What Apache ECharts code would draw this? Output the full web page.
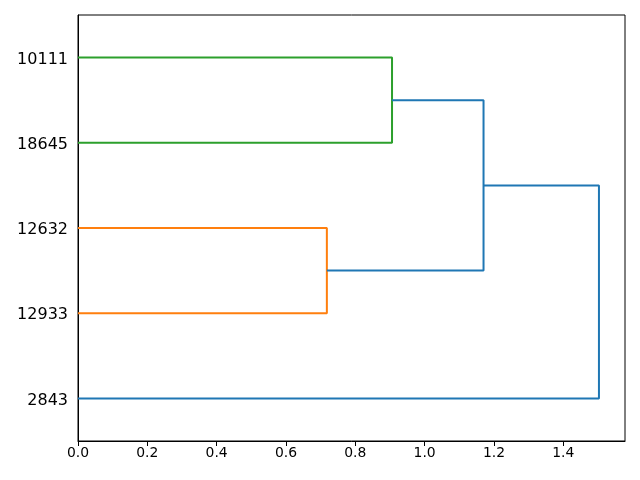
<!DOCTYPE html>
<html><head><meta charset="utf-8">
<script src="https://cdn.jsdelivr.net/npm/echarts@6/dist/echarts.min.js"></script>
<style>html,body{margin:0;padding:0;background:#fff}#c{width:640px;height:480px}</style>
</head><body><div id="c"></div>
<script>
// leaves, bottom to top
const leaves = ['2843', '12933', '12632', '18645', '10111'];
// links in scipy style: leaf-axis coords and distance coords
const icoord = [
  [15, 15, 25, 25],
  [35, 35, 45, 45],
  [20, 20, 40, 40],
  [5, 5, 30, 30]
];
const dcoord = [
  [0, 0.718, 0.718, 0],
  [0, 0.906, 0.906, 0],
  [0.718, 1.170, 1.170, 0.906],
  [0, 1.503, 1.503, 1.170]
];
const linkColors = ['#ff7f0e', '#2ca02c', '#1f77b4', '#1f77b4'];
const xTicks = [0, 0.2, 0.4, 0.6, 0.8, 1.0, 1.2, 1.4];

const chart = echarts.init(document.getElementById('c'));
const series = icoord.map((ic, i) => ({
  type: 'line',
  xAxisIndex: 0,
  yAxisIndex: 0,
  data: ic.map((y, j) => [dcoord[i][j], y]),
  symbol: 'none',
  silent: true,
  animation: false,
  lineStyle: { color: linkColors[i], width: 2 }
}));
const xmax = Math.max(...dcoord.flat()) * 1.05;
chart.setOption({
  animation: false,
  grid: [
    { left: 78, right: 15, top: 15, bottom: 39, show: true, borderColor: '#000', borderWidth: 1, backgroundColor: 'transparent' },
    { left: 78, right: 15, top: 17, bottom: 37, show: false }
  ],
  xAxis: [{
    type: 'value', gridIndex: 0, min: 0, max: xmax, interval: 0.2,
    axisLine: { show: true, onZero: false, lineStyle: { color: '#000', width: 1 } },
    axisTick: { show: true, length: 5, lineStyle: { color: '#000' } },
    axisLabel: { color: '#000', fontSize: 13.9, fontFamily: 'DejaVu Sans', margin: 5,
      formatter: v => xTicks.some(t => Math.abs(t - v) < 1e-9) ? v.toFixed(1) : '',
      showMaxLabel: false },
    splitLine: { show: false }
  }, {
    type: 'value', gridIndex: 1, min: 0, max: 1, show: false
  }],
  yAxis: [{
    type: 'value', gridIndex: 0, min: 0, max: 50,
    axisLine: { show: true, lineStyle: { color: '#000', width: 1 } },
    axisTick: { show: false }, axisLabel: { show: false }, splitLine: { show: false }
  }, {
    type: 'category', gridIndex: 1, data: leaves, boundaryGap: true,
    axisLine: { show: false },
    axisTick: { show: false },
    axisLabel: { color: '#000', fontSize: 16, fontFamily: 'DejaVu Sans', margin: 10 },
    splitLine: { show: false }
  }],
  series: series
});
</script></body></html>
